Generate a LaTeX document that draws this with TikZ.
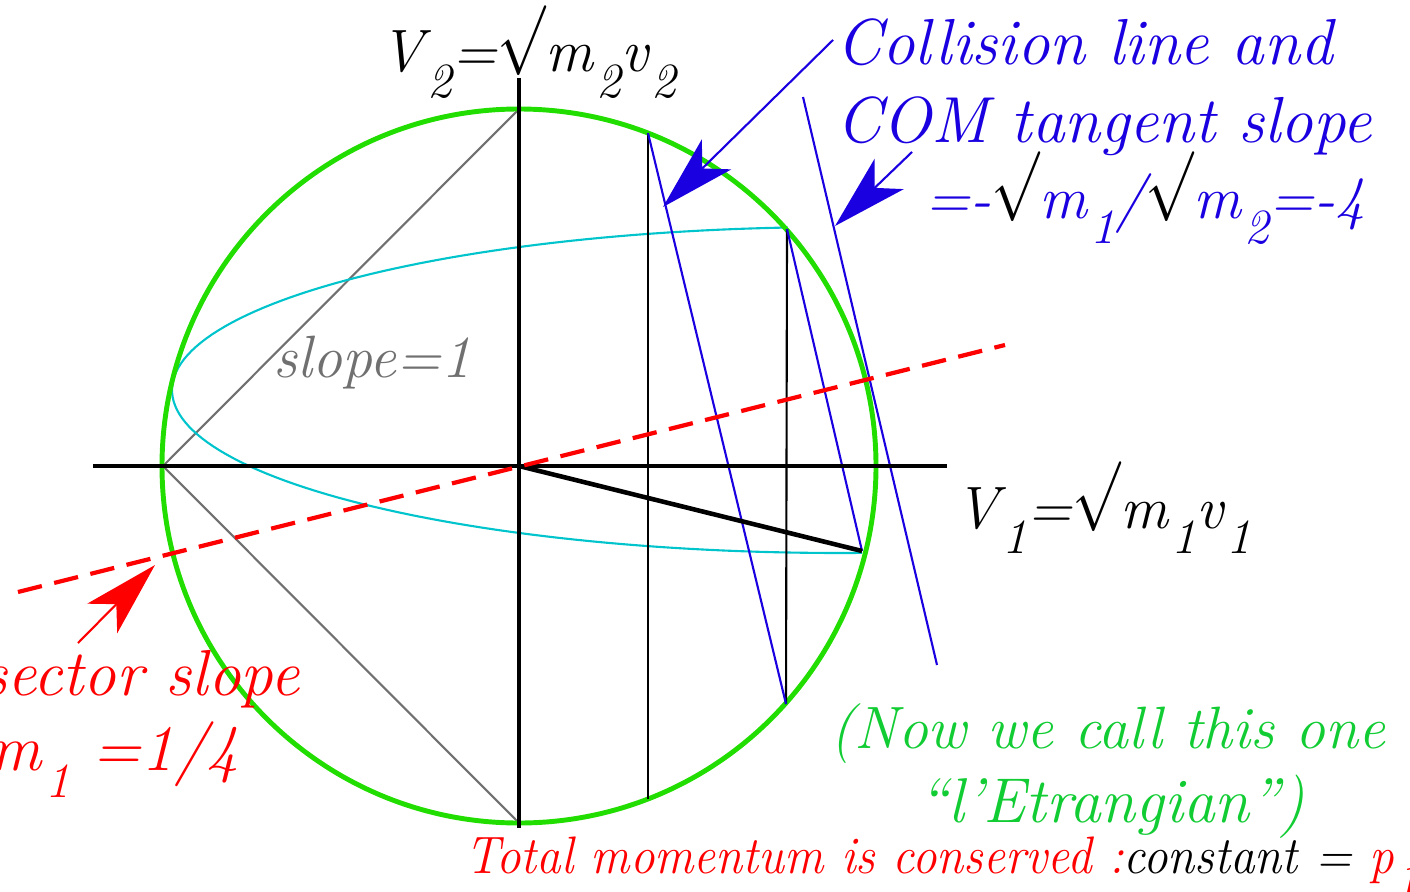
\documentclass[tikz,border=0pt]{standalone}
\usepackage{fontspec}
\usepackage{tikz}
\usetikzlibrary{arrows.meta,calc}
\definecolor{CollBlue}{HTML}{1A00E0}
\definecolor{BisRed}{HTML}{FF0000}
\definecolor{SlopeGray}{HTML}{707070}
\definecolor{EllCyan}{HTML}{00C4CC}
\definecolor{CircGreen}{HTML}{22DD00}
\definecolor{NoteGreen}{HTML}{11CC33}
\newcommand{\dn}[1]{\kern1pt\raisebox{-0.42em}{\fontsize{14}{14}\selectfont #1}}
\newcommand{\rt}{\raisebox{0.24em}{\scalebox{0.95}[1.15]{$\surd$}}}

\begin{document}
\begin{tikzpicture}[x=0.01cm,y=-0.01cm,
    every node/.style={font=\fontsize{17}{20}\selectfont\itshape,inner sep=0pt},
    big/.style={font=\fontsize{18.5}{22}\selectfont\itshape},
    axis/.style={black,line width=1.2pt},
    chord/.style={black,line width=0.6pt},
    coll/.style={CollBlue,line width=0.6pt},
    guide/.style={SlopeGray,line width=0.6pt},
    callout/.style={-{Stealth[length=7.5mm,width=4.2mm,inset=2mm]},line width=0.6pt}]
  \useasboundingbox (0,0) rectangle (1410,891);
  % points on the circle
  \coordinate (O) at (519,466);
  \coordinate (xl) at (93,466);  \coordinate (xr) at (947,466);
  \coordinate (yt) at (519,78);  \coordinate (yb) at (519,828);
  \coordinate (L) at (163,466);  \coordinate (T) at (519,109);
  \coordinate (B) at (519,823);
  \coordinate (a1) at (648,133); \coordinate (a2) at (648,799);
  \coordinate (b1) at (787,229); \coordinate (b2) at (786,704);
  \coordinate (P) at (862,551);
  \coordinate (t1) at (803,97);  \coordinate (t2) at (937,665);
  \coordinate (r1) at (18,592);  \coordinate (r2) at (1005,345);
  % arrow ends
  \coordinate (ca1) at (833,40);  \coordinate (tip1) at (663,207);
  \coordinate (ca2) at (912,152); \coordinate (tip2) at (835,226);
  \coordinate (ra) at (78,643);   \coordinate (tip3) at (155,565);

  \draw[guide] (T) -- (L) -- (B);
  \draw[EllCyan,line width=0.6pt] plot[domain=94.5:271.9,samples=120]
    ({840+668*cos(\x)},{390-163*sin(\x)});
  \draw[CircGreen,line width=1.4pt] (O) circle[radius=357];
  \draw[chord] (a1) -- (a2);
  \draw[chord] (b1) -- (b2);
  \draw[coll] (a1) -- (b2);
  \draw[coll] (b1) -- (P);
  \draw[coll] (t1) -- (t2);
  \draw[axis] (xl) -- (xr);
  \draw[axis] (yt) -- (yb);
  \draw[black,line width=1.3pt] (O) -- (P);
  \draw[BisRed,line width=1.2pt,dash pattern=on 7pt off 3.6pt] (r1) -- (r2);
  \draw[callout,CollBlue] (ca1) -- (tip1);
  \draw[callout,CollBlue] (ca2) -- (tip2);
  \draw[callout,BisRed] (ra) -- (tip3);

  \node[anchor=base west] (v2lab) at (380,72) {V\dn{2}=\rt m\dn{2}v\dn{2}};
  \node[anchor=base west] (v1lab) at (955,528) {V\dn{1}=\rt m\dn{1}v\dn{1}};
  \node[anchor=base west,text=SlopeGray] (slab) at (273,377) {slope=1};
  \node[anchor=base west,big,text=CollBlue] (coll1) at (836,65) {Collision line and};
  \node[anchor=base west,big,text=CollBlue] (coll2) at (836,143) {COM tangent slope};
  \node[anchor=base west,text=CollBlue] (coll3) at (925,218)
    {=-{\color{black}\rt}m\dn{1}/{\color{black}\rt}m\dn{2}=-4};
  \node[anchor=base east,big,text=BisRed] (bis1) at (300,695) {Bisector slope};
  \node[anchor=base east,big,text=BisRed] (bis2) at (240,770) {=\rt m\dn{2}/\rt m\dn{1} =1/4};
  \node[anchor=base west,text=NoteGreen] (note1) at (830,748) {(Now we call this one};
  \node[anchor=base west,font=\fontsize{18}{20}\selectfont\itshape,text=NoteGreen] (note2) at (918,822) {“l’Etrangian”)};
  \node[anchor=base west,font=\fontsize{15}{18}\selectfont\itshape] (tot) at (465,873)
    {\scalebox{0.93}[1]{\textcolor{BisRed}{Total momentum is conserved :}constant = \textcolor{BisRed}{p\dn{1}+p\dn{2}}}};
\end{tikzpicture}
\end{document}
